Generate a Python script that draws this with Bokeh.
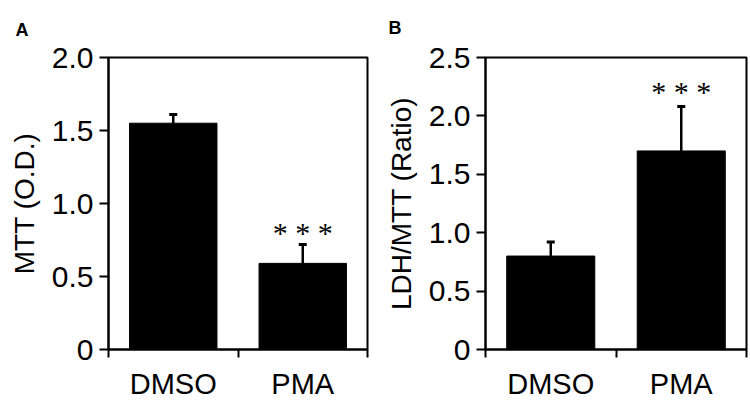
from bokeh.plotting import figure
from bokeh.models import Range1d, FixedTicker, ColumnDataSource
from bokeh.layouts import row
from bokeh.embed import file_html
from bokeh.resources import INLINE
from bokeh.core.properties import value

# ---------------- data ----------------
categories = ["DMSO", "PMA"]
cat_pos = [0.5, 1.5]
cat_edges = [0, 1, 2]

mtt_values = [1.55, 0.59]
mtt_errors = [0.06, 0.13]
mtt_sig_text = ["* * *"]
mtt_sig_x = [1.5]
mtt_sig_y = [0.80]
mtt_ticks = [0, 0.5, 1.0, 1.5, 2.0]
mtt_tick_labels = ["0", "0.5", "1.0", "1.5", "2.0"]

ratio_values = [0.80, 1.70]
ratio_errors = [0.12, 0.38]
ratio_sig_text = ["* * *"]
ratio_sig_x = [1.5]
ratio_sig_y = [2.21]
ratio_ticks = [0, 0.5, 1.0, 1.5, 2.0, 2.5]
ratio_tick_labels = ["0", "0.5", "1.0", "1.5", "2.0", "2.5"]

FONT = "Liberation Sans"


def panel(letter, vals, errs, ticks, tick_labels, ylabel, sig_text, sig_x, sig_y,
          width, height, bl, br, bt, bb, letter_offset, letter_standoff):
    ymax = ticks[-1]
    p = figure(width=width, height=height, output_backend="svg", toolbar_location=None,
               x_range=Range1d(0, 2), y_range=Range1d(0, ymax),
               min_border_left=bl, min_border_right=br, min_border_top=bt, min_border_bottom=bb)
    p.grid.visible = False
    p.outline_line_color = "black"
    p.outline_line_width = 2
    p.outline_line_alpha = 1

    # panel letter as title
    p.title.text = letter
    p.title.align = "left"
    p.title.vertical_align = "top"
    p.title.offset = letter_offset
    p.title.standoff = letter_standoff
    p.title.text_font = FONT
    p.title.text_font_size = "18px"
    p.title.text_font_style = "bold"
    p.title.text_color = "black"

    tops = [v + e for v, e in zip(vals, errs)]
    src = ColumnDataSource(dict(x=cat_pos, top=vals, etop=tops))
    p.vbar(x="x", top="top", bottom=0, width=0.675, source=src,
           fill_color="black", line_color="black", line_width=1)
    p.segment(x0="x", y0="top", x1="x", y1="etop", source=src,
              line_color="black", line_width=2.5)
    p.dash(x="x", y="etop", size=8, angle=0, source=src,
           line_color="black", line_width=3)

    ssrc = ColumnDataSource(dict(x=sig_x, y=sig_y, t=sig_text))
    p.text(x="x", y="y", text="t", source=ssrc, text_align="center",
           text_baseline="middle", text_font=value("Liberation Serif"),
           text_font_size="30px", text_color="black")

    # y axis
    ya = p.yaxis[0]
    ya.ticker = FixedTicker(ticks=ticks, minor_ticks=[])
    ya.major_label_overrides = {t: l for t, l in zip(ticks, tick_labels)}
    ya.major_tick_out = 9
    ya.major_tick_in = 0
    ya.minor_tick_out = 0
    ya.minor_tick_in = 0
    ya.major_tick_line_width = 2
    ya.major_tick_line_color = "black"
    ya.axis_line_width = 2
    ya.axis_line_color = "black"
    ya.major_label_standoff = 6
    ya.major_label_text_font = FONT
    ya.major_label_text_font_size = "30px"
    ya.major_label_text_color = "black"
    ya.axis_label = ylabel
    ya.axis_label_text_font = FONT
    ya.axis_label_text_font_size = "28px"
    ya.axis_label_text_font_style = "normal"
    ya.axis_label_text_color = "black"
    ya.axis_label_standoff = 9

    # x axis
    xa = p.xaxis[0]
    xa.ticker = FixedTicker(ticks=cat_pos, minor_ticks=cat_edges)
    xa.major_label_overrides = {t: c for t, c in zip(cat_pos, categories)}
    xa.major_tick_out = 0
    xa.major_tick_in = 0
    xa.minor_tick_out = 8
    xa.minor_tick_in = 0
    xa.minor_tick_line_width = 2
    xa.minor_tick_line_color = "black"
    xa.axis_line_width = 2
    xa.axis_line_color = "black"
    xa.major_label_standoff = 10
    xa.major_label_text_font = FONT
    xa.major_label_text_font_size = "29px"
    xa.major_label_text_color = "black"
    return p


pa = panel("A", mtt_values, mtt_errors, mtt_ticks, mtt_tick_labels, "MTT (O.D.)",
           mtt_sig_text, mtt_sig_x, mtt_sig_y,
           width=375, height=402, bl=108, br=8, bt=53, bb=51,
           letter_offset=-93, letter_standoff=31)
pb = panel("B", ratio_values, ratio_errors, ratio_ticks, ratio_tick_labels, "LDH/MTT (Ratio)",
           ratio_sig_text, ratio_sig_x, ratio_sig_y,
           width=375, height=402, bl=110, br=4, bt=57, bb=51,
           letter_offset=-97, letter_standoff=35)

layout = row(pa, pb, spacing=0)
open("out.html", "w").write(file_html(layout, INLINE))
